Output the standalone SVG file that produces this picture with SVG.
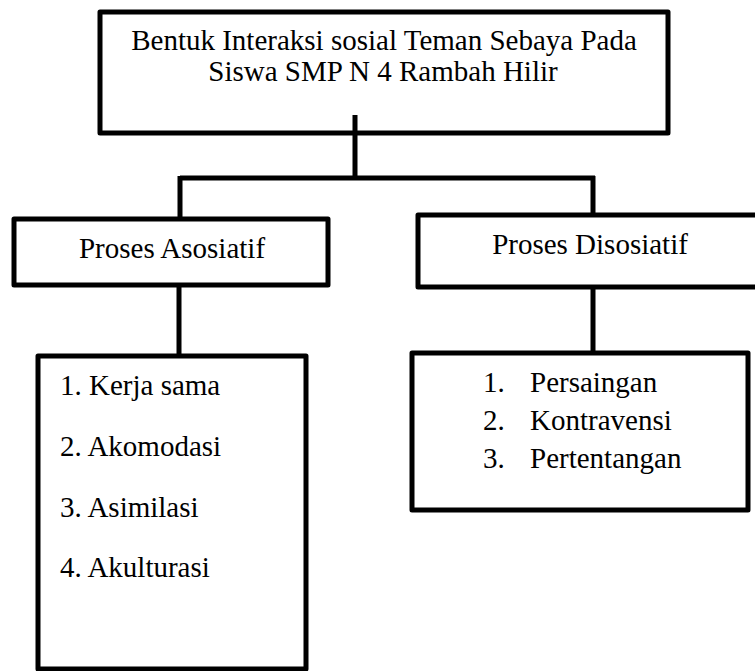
<svg xmlns="http://www.w3.org/2000/svg" width="755" height="671" viewBox="0 0 755 671">
<style>
.box{fill:#fff;stroke:#000;stroke-width:5;stroke-linejoin:round}
.ln{fill:none;stroke:#000;stroke-width:5;stroke-linecap:butt}
text{font-family:"Liberation Serif","Times New Roman",serif;font-size:29px;fill:#000}
.c{text-anchor:middle}
</style>
<rect width="755" height="671" fill="#fff"/>
<g id="root">
<rect class="box" x="100" y="12" width="568" height="121"/>
<text class="c" x="384" y="50">Bentuk Interaksi sosial Teman Sebaya Pada</text>
<text class="c" x="383" y="81">Siswa SMP N 4 Rambah Hilir</text>
</g>
<g id="connectors">
<path class="ln" d="M355 115 V178 M180 178 H595 M180 176 V219 M593 176 V215 M179 285 V356 M593 287 V353"/>
</g>
<g id="asosiatif">
<rect class="box" x="14" y="219" width="314" height="66"/>
<text class="c" x="172" y="258">Proses Asosiatif</text>
</g>
<g id="disosiatif">
<rect class="box" x="418" y="215" width="345" height="72"/>
<text class="c" x="590" y="254">Proses Disosiatif</text>
</g>
<g id="asosiatif-list">
<rect class="box" x="38" y="356" width="268" height="313"/>
<text x="60" y="395">1. Kerja sama</text>
<text x="60" y="456">2. Akomodasi</text>
<text x="60" y="517">3. Asimilasi</text>
<text x="60" y="577">4. Akulturasi</text>
</g>
<g id="disosiatif-list">
<rect class="box" x="412" y="353" width="336" height="157"/>
<text x="483" y="392">1.</text>
<text x="530" y="392">Persaingan</text>
<text x="483" y="430">2.</text>
<text x="530" y="430">Kontravensi</text>
<text x="483" y="468">3.</text>
<text x="530" y="468">Pertentangan</text>
</g>
</svg>
